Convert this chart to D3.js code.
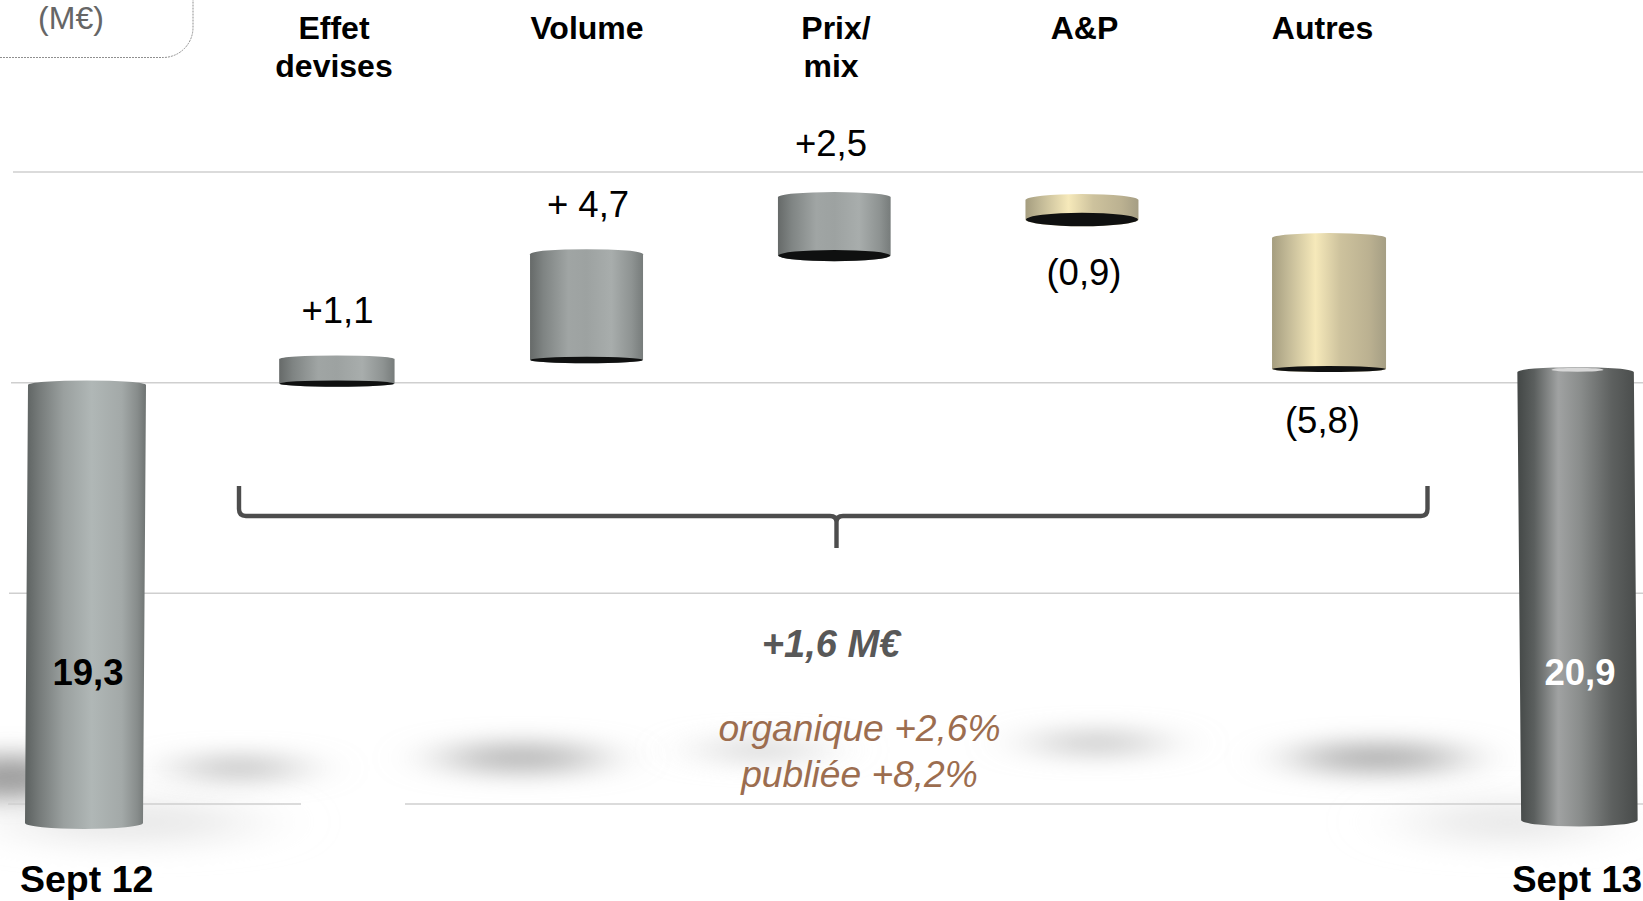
<!DOCTYPE html>
<html lang="fr">
<head>
<meta charset="utf-8">
<title>Sept 12 - Sept 13 (M€)</title>
<script src="https://cdn.jsdelivr.net/npm/d3@7/dist/d3.min.js"></script>
<style>
html,body{margin:0;padding:0;background:#fff;overflow:hidden}
svg{display:block}
text{font-family:"Liberation Sans",Arial,sans-serif}
</style>
</head>
<body>
<svg id="chart" width="1643" height="901"></svg>
<script>
// ---------- data ----------
const categories   = ["Sept 12", "Effet devises", "Volume", "Prix/ mix", "A&P", "Autres", "Sept 13"];
const valueLabels  = ["19,3", "+1,1", "+ 4,7", "+2,5", "(0,9)", "(5,8)", "20,9"];
const barBottoms   = [0.19, 18.96, 19.97, 24.43, 25.97, 19.58, 0.32];
const barTops      = [18.90, 20.01, 24.49, 26.93, 26.80, 25.18, 19.45];
const barKinds     = ["start", "up", "up", "up", "down", "down", "end"];
const gridValues   = [0.995, 10, 19, 28];
const headerLines  = [[], ["Effet", "devises"], ["Volume"], ["Prix/", "mix"], ["A&P"], ["Autres"], []];
const unitLabel    = "(M€)";
const totalChange  = "+1,6 M€";
const growthLines  = ["organique +2,6%", "publiée +8,2%"];

// ---------- layout ----------
const svg = d3.select("#chart");
const W = 1643, H = 901;
const x = d3.scalePoint().domain(categories).range([85.5, 1577.5]);
const y = d3.scaleLinear().domain([0, 28]).range([827.4, 172]);
const barNudge   = [0, 2.7, 3.7, 2.8, 1.8, 0.2, 0];
const barWidth   = [118, 115.4, 113, 112.7, 113, 114, 116.5];
const barLean    = [1.5, 0, 0, 0, 0, 0, -1.9];
const capTop     = [4.5, 3.5, 5, 5, 6, 5, 5];
const capBottom  = [6, 3.2, 3.3, 5.6, 6.8, 3, 6.5];
const labelX     = [88, 337.5, 588, 831, 1084, 1322.5, 1580];
const labelY     = [685, 323, 216.5, 155.5, 284.5, 433, 685];
const headerX    = [[], [334, 334], [587], [836, 831], [1084.5], [1322.5], []];

const gradients = {
  start: [[0,"#5c6160"],[.12,"#767b7a"],[.32,"#9aa09f"],[.55,"#b0b7b6"],[.8,"#a3a9a8"],[.93,"#878c8b"],[1,"#6e7372"]],
  up:    [[0,"#666a69"],[.12,"#7f8483"],[.34,"#a0a5a4"],[.5,"#9da2a1"],[.72,"#a8adac"],[.9,"#8e9392"],[1,"#777c7b"]],
  down:  [[0,"#a59d7f"],[.14,"#c3ba97"],[.38,"#f6e9ba"],[.6,"#cdc29d"],[.85,"#bbb191"],[1,"#a59e84"]],
  end:   [[0,"#434746"],[.14,"#5b5f5e"],[.34,"#a0a2a2"],[.52,"#8a8d8c"],[.78,"#5e6160"],[1,"#484b4a"]]
};
const defs = svg.append("defs");
Object.entries(gradients).forEach(([k, stops]) => {
  const g = defs.append("linearGradient").attr("id", "grad-" + k).attr("x1", 0).attr("x2", 1).attr("y1", 0).attr("y2", 0);
  stops.forEach(s => g.append("stop").attr("offset", s[0]).attr("stop-color", s[1]));
});
[["blur-soft", "32 12"], ["blur-wide", "40 16"]].forEach(([id, sd]) => {
  defs.append("filter").attr("id", id).attr("filterUnits", "userSpaceOnUse")
    .attr("x", -200).attr("y", 500).attr("width", 2100).attr("height", 500)
    .append("feGaussianBlur").attr("stdDeviation", sd);
});

// background
svg.append("rect").attr("width", W).attr("height", H).attr("fill", "#fff");

// floating shadows under each mark (offsets from each bar's centre)
const shadows = [
  {cat:0, dx:-75, cy:778, rx:65, ry:24, fill:"#9a9a9a", f:"blur-soft"},
  {cat:0, dx:45,  cy:822, rx:125, ry:18, fill:"#e4e4e4", f:"blur-wide"},
  {cat:1, dx:-95, cy:768, rx:62, ry:10, fill:"#b4b4b4", f:"blur-soft"},
  {cat:2, dx:-61, cy:758, rx:80, ry:14, fill:"#b0b0b0", f:"blur-soft"},
  {cat:3, dx:-70, cy:750, rx:60, ry:10, fill:"#d0d0d0", f:"blur-soft"},
  {cat:4, dx:17,  cy:743, rx:65, ry:10, fill:"#bdbdbd", f:"blur-soft"},
  {cat:5, dx:50,  cy:758, rx:85, ry:14, fill:"#a8a8a8", f:"blur-soft"},
  {cat:6, dx:-70, cy:822, rx:95, ry:18, fill:"#e4e4e4", f:"blur-wide"}
];
svg.append("g").selectAll("ellipse").data(shadows).join("ellipse")
  .attr("cx", d => x(categories[d.cat]) + d.dx).attr("cy", d => d.cy)
  .attr("rx", d => d.rx).attr("ry", d => d.ry)
  .attr("fill", d => d.fill).attr("filter", d => `url(#${d.f})`);

// grid lines
const gridSpans = [[[13, W]], [[11, W]], [[9, W]], [[8, 301], [405, W]]].reverse();
const gridData = gridValues.flatMap((v, i) => gridSpans[i].map(s => ({v, s})));
svg.append("g").selectAll("line").data(gridData).join("line")
  .attr("x1", d => d.s[0]).attr("x2", d => d.s[1])
  .attr("y1", d => y(d.v)).attr("y2", d => y(d.v))
  .attr("stroke", "#cfcfcf").attr("stroke-width", 1.5);

// unit box
svg.append("path")
  .attr("d", "M0,57.5H163A30,30 0 0 0 193,27.5V0")
  .attr("fill", "none").attr("stroke", "#8f8f8f").attr("stroke-width", 1).attr("stroke-dasharray", "2 1");
svg.append("text").text(unitLabel).attr("x", 71).attr("y", 29).attr("text-anchor", "middle")
  .attr("font-size", 32).attr("fill", "#666");

// cylinders
const bars = categories.map((c, i) => {
  const cx = x(c) + barNudge[i], hw = barWidth[i] / 2;
  return {c, i, cx, hw, top: y(barTops[i]), bot: y(barBottoms[i]), kind: barKinds[i]};
});
const barG = svg.append("g");
barG.selectAll("path.body").data(bars).join("path").attr("class", "body")
  .attr("fill", d => `url(#grad-${d.kind})`)
  .attr("d", d => {
    const l = barLean[d.i];
    const xl = d.cx - d.hw + l, xr = d.cx + d.hw + l, bl = d.cx - d.hw - l, br = d.cx + d.hw - l;
    return `M${xl},${d.top}A${d.hw},${capTop[d.i]} 0 0 1 ${xr},${d.top}` +
           `L${br},${d.bot}A${d.hw},${capBottom[d.i]} 0 0 1 ${bl},${d.bot}Z`;
  });
barG.selectAll("ellipse.under").data(bars.filter(d => d.kind === "up" || d.kind === "down")).join("ellipse")
  .attr("class", "under").attr("cx", d => d.cx).attr("cy", d => d.bot)
  .attr("rx", d => d.hw - 0.5).attr("ry", d => capBottom[d.i]).attr("fill", "#0f1010");
// highlight on the top rim of the last bar
svg.append("ellipse").datum(bars[6])
  .attr("cx", d => d.cx).attr("cy", d => d.top - 2.4)
  .attr("rx", 26).attr("ry", 2).attr("fill", "#d8d8d8");

// headers
const headerG = svg.append("g").attr("font-weight", "bold").attr("font-size", 32).attr("fill", "#000").attr("text-anchor", "middle");
categories.forEach((c, i) => headerLines[i].forEach((line, j) => {
  headerG.append("text").text(line).attr("x", headerX[i][j]).attr("y", 39 + j * 38);
}));

// value labels
svg.append("g").selectAll("text").data(categories).join("text")
  .text((c, i) => valueLabels[i])
  .attr("x", (c, i) => labelX[i]).attr("y", (c, i) => labelY[i])
  .attr("text-anchor", "middle")
  .attr("font-size", 36.5)
  .attr("font-weight", (c, i) => (i === 0 || i === 6) ? "bold" : "normal")
  .attr("fill", (c, i) => i === 6 ? "#fff" : "#000");

// period labels
svg.append("text").text(categories[0]).attr("x", 20).attr("y", 892)
  .attr("font-weight", "bold").attr("font-size", 37.5).attr("fill", "#000");
svg.append("text").text(categories[6]).attr("x", 1642).attr("y", 892).attr("text-anchor", "end")
  .attr("font-weight", "bold").attr("font-size", 36.5).attr("fill", "#000");

// brace
svg.append("path")
  .attr("d", "M239,486V509Q239,516 246,516H830Q836.5,516 836.5,522V548V522Q836.5,516 843,516H1421Q1427.5,516 1427.5,509V486")
  .attr("fill", "none").attr("stroke", "#4d4d4d").attr("stroke-width", 4.4);

// summary
svg.append("text").text(totalChange).attr("x", 831).attr("y", 657).attr("text-anchor", "middle")
  .attr("font-weight", "bold").attr("font-style", "italic").attr("font-size", 38).attr("fill", "#585858");
svg.append("g").selectAll("text").data(growthLines).join("text").text(d => d)
  .attr("x", 859.5).attr("y", (d, i) => 740.5 + i * 46).attr("text-anchor", "middle")
  .attr("font-style", "italic").attr("font-size", 37.2).attr("fill", "#9c6d4f");
</script>
</body>
</html>
